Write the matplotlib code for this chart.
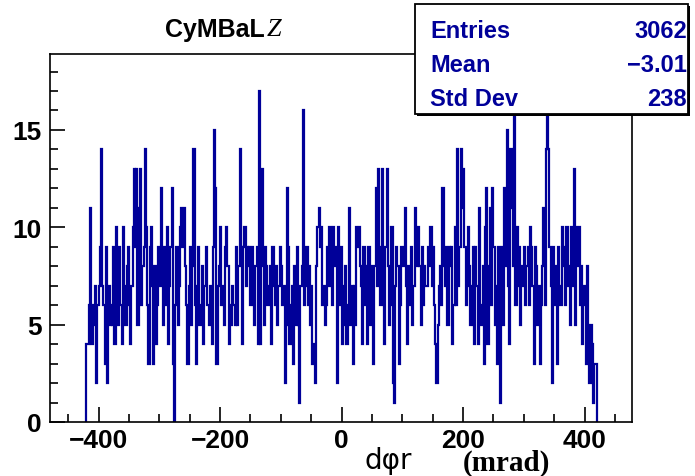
import numpy as np
import matplotlib
matplotlib.use("Agg")
import matplotlib.pyplot as plt
from matplotlib.ticker import MultipleLocator
from matplotlib.patches import Rectangle

# histogram: 2 mrad bins from -420 to 420
bin_lo = -420
bin_hi = 420
counts = [
    4,4,6,11,4,6,5,7,2,6,7,9,14,7,6,3,9,2,7,5,
    6,5,9,4,10,8,5,9,6,4,10,7,5,8,9,6,4,7,10,13,
    9,13,5,11,13,6,8,9,14,10,6,3,9,10,7,3,8,4,6,9,
    7,12,8,5,9,6,10,4,7,9,12,3,0,6,9,5,7,10,11,9,
    11,8,6,3,7,9,5,8,14,6,3,7,9,5,6,8,4,7,9,6,
    6,5,7,4,9,15,12,3,7,8,10,6,7,5,9,10,8,4,6,5,
    7,6,5,9,5,8,14,9,4,9,10,7,9,8,9,6,9,7,5,8,
    9,4,17,4,13,8,5,9,8,6,7,8,4,9,7,6,8,5,7,9,
    8,6,7,2,5,12,9,4,6,7,3,8,5,9,5,1,7,8,16,6,
    7,9,6,8,5,7,3,4,2,8,10,11,9,10,6,7,5,6,9,7,
    10,7,6,10,8,9,2,10,6,9,4,5,7,8,4,6,11,5,7,3,
    7,5,10,9,10,8,7,4,9,6,8,4,9,5,8,7,3,8,12,7,
    13,9,6,13,7,4,9,13,8,5,6,10,2,1,7,9,8,3,6,9,
    8,9,11,7,4,8,6,9,5,7,11,9,8,10,8,5,9,6,8,7,
    7,9,8,10,7,9,6,4,2,5,7,8,6,12,8,7,9,5,9,8,
    9,4,6,10,6,14,7,9,14,11,13,9,6,7,10,8,5,7,9,4,
    9,7,4,11,6,5,8,3,10,12,4,8,11,6,12,9,5,7,3,9,
    1,6,9,5,12,8,15,7,4,14,11,8,18,6,10,7,9,5,8,7,
    9,6,8,9,6,10,9,7,3,9,8,5,7,3,6,8,11,6,14,18,
    14,9,7,2,9,6,8,3,9,7,6,10,8,9,6,10,7,8,5,10,
    7,13,5,10,8,10,6,8,4,7,6,3,8,5,2,5,4,1,3,3,
]
stat_labels = ["Entries", "Mean", "Std Dev"]
stat_values = ["3062", "\u22123.01", "238"]
x_ticks = [-400, -200, 0, 200, 400]
y_ticks = [0, 5, 10, 15]

edges = np.linspace(bin_lo, bin_hi, len(counts) + 1)

W, H = 695, 477
fig = plt.figure(figsize=(W / 100, H / 100), dpi=100)
ax = fig.add_axes([50 / W, 1 - 423 / H, (632 - 50) / W, (423 - 55) / H])

blue = "#000099"
ax.stairs(counts, edges, baseline=0, fill=False, color=blue, lw=1.6)
ax.set_xlim(-480, 478)
ax.set_ylim(0, 18.9)

ax.set_xticks(x_ticks)
ax.set_xticklabels([("\u2212%d" % -v) if v < 0 else "%d" % v for v in x_ticks])
ax.set_yticks(y_ticks)
ax.xaxis.set_minor_locator(MultipleLocator(50))
ax.yaxis.set_minor_locator(MultipleLocator(1))
ax.tick_params(which="both", direction="in", top=False, right=False,
               width=1.2, color="black")
ax.tick_params(which="major", length=11)
ax.tick_params(which="minor", length=6)
ax.tick_params(axis="x", pad=4)
ax.tick_params(axis="y", pad=6)
for lab in ax.get_xticklabels() + ax.get_yticklabels():
    lab.set_fontfamily("Liberation Sans")
    lab.set_fontweight("bold")
    lab.set_fontsize(19)
for s in ax.spines.values():
    s.set_linewidth(1.2)

# title
fig.text(165 / W, 1 - 30 / H, "CyMBaL", fontfamily="Liberation Sans",
         fontweight="bold", fontsize=18, va="center", ha="left")
fig.text(267 / W, 1 - 30 / H, "Z", fontfamily="Liberation Serif",
         fontstyle="italic", fontsize=19, va="center", ha="left")

# x axis title
fig.text(364 / W, 1 - 461 / H, "d\u03c6r", fontfamily="DejaVu Sans",
         fontsize=20, va="center", ha="left")
fig.text(463 / W, 1 - 463 / H, "(mrad)", fontfamily="Liberation Serif",
         fontweight="bold", fontsize=21, va="center", ha="left")

# stats box
bx0, by0, bx1, by1 = 415, 5, 688, 115
fig.patches.append(Rectangle((bx0 / W, 1 - by1 / H), (bx1 - bx0) / W,
                             (by1 - by0) / H, transform=fig.transFigure,
                             facecolor="white", edgecolor="black", lw=1.3,
                             zorder=5))
fig.patches.append(Rectangle((bx1 / W, 1 - (by1 + 2) / H), 2 / W,
                             (by1 - by0) / H, transform=fig.transFigure,
                             facecolor="black", edgecolor="none", zorder=5))
fig.patches.append(Rectangle(((bx0 + 2) / W, 1 - (by1 + 2) / H),
                             (bx1 - bx0) / W, 2 / H, transform=fig.transFigure,
                             facecolor="black", edgecolor="none", zorder=5))
rows_y = [31, 65, 100]
for lab, val, yy in zip(stat_labels, stat_values, rows_y):
    fig.text(430 / W, 1 - yy / H, lab, fontfamily="Liberation Sans",
             fontweight="bold", fontsize=17, color=blue, va="center",
             ha="left", zorder=6)
    fig.text(687 / W, 1 - yy / H, val, fontfamily="Liberation Sans",
             fontweight="bold", fontsize=17, color=blue, va="center",
             ha="right", zorder=6)

fig.savefig("out.png", dpi=100)
